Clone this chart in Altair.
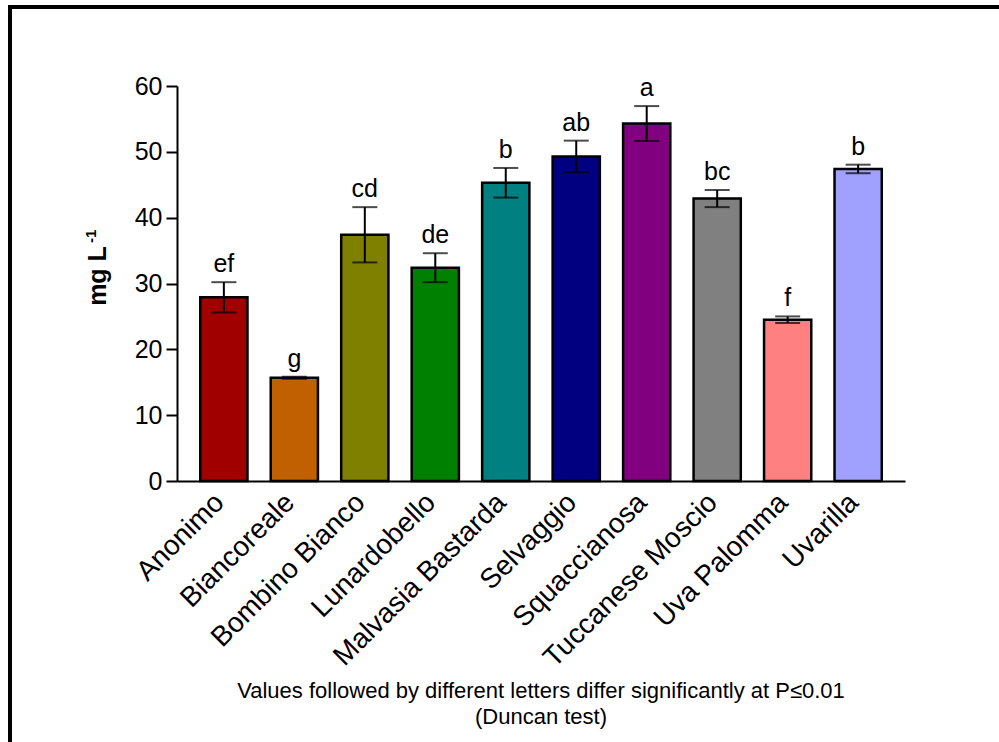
import altair as alt
import pandas as pd

# Cultivars, means (mg/L), standard errors and Duncan grouping letters
cultivars = ["Anonimo", "Biancoreale", "Bombino Bianco", "Lunardobello",
             "Malvasia Bastarda", "Selvaggio", "Squaccianosa",
             "Tuccanese Moscio", "Uva Palomma", "Uvarilla"]
means = [27.9, 15.7, 37.4, 32.4, 45.3, 49.3, 54.3, 42.9, 24.5, 47.4]
errors = [2.3, 0.15, 4.2, 2.2, 2.25, 2.4, 2.65, 1.3, 0.5, 0.65]
letters = ["ef", "g", "cd", "de", "b", "ab", "a", "bc", "f", "b"]
bar_colors = ["#A00000", "#C06000", "#808000", "#008000", "#008080",
              "#000080", "#800080", "#808080", "#FF8080", "#A0A0FF"]

df = pd.DataFrame({
    "cultivar": cultivars,
    "mean": means,
    "lo": [m - e for m, e in zip(means, errors)],
    "hi": [m + e for m, e in zip(means, errors)],
    "letter": letters,
})

W, H = 728, 395
FONT = "Liberation Sans"

x = alt.X("cultivar:N", sort=cultivars,
          scale=alt.Scale(paddingInner=0.33, paddingOuter=0.33),
          axis=alt.Axis(title=None, labelAngle=-45, labelAlign="right",
                        labelBaseline="middle", labelFontSize=28,
                        labelPadding=17, labelOffset=-4, labelLimit=0,
                        ticks=False, labelColor="black", labelFont=FONT,
                        domainColor="black", domainWidth=2))
y = alt.Y("mean:Q", scale=alt.Scale(domain=[0, 60], nice=False),
          axis=alt.Axis(title=None, values=[0, 10, 20, 30, 40, 50, 60],
                        labelFontSize=25, labelColor="black", labelFont=FONT,
                        labelPadding=4, tickSize=11, tickWidth=2,
                        tickColor="black", domainColor="black",
                        domainWidth=2, grid=False))

base = alt.Chart(df)

bars = base.mark_bar(stroke="black", strokeWidth=2.5).encode(
    x=x, y=y,
    color=alt.Color("cultivar:N", sort=cultivars, legend=None,
                    scale=alt.Scale(domain=cultivars, range=bar_colors)),
)

whisker = base.mark_rule(color="black", strokeWidth=2).encode(
    x=alt.X("cultivar:N", sort=cultivars), y="lo:Q", y2="hi:Q")
cap_hi = base.mark_tick(color="black", orient="horizontal", size=25,
                        thickness=2).encode(
    x=alt.X("cultivar:N", sort=cultivars), y="hi:Q")
cap_lo = base.mark_tick(color="black", orient="horizontal", size=25,
                        thickness=2).encode(
    x=alt.X("cultivar:N", sort=cultivars), y="lo:Q")

group_text = base.mark_text(fontSize=25, font=FONT, color="black",
                            baseline="alphabetic", dy=-10).encode(
    x=alt.X("cultivar:N", sort=cultivars), y="hi:Q", text="letter:N")

one = pd.DataFrame({"k": [0]})

# Y-axis title with superscript exponent
ytitle = alt.Chart(one).mark_text(
    text="mg L", font=FONT, fontWeight="bold", fontSize=25, angle=270,
    align="center", baseline="alphabetic", color="black"
).encode(x=alt.value(-71), y=alt.value(190))
ysup = alt.Chart(one).mark_text(
    text="-1", font=FONT, fontWeight="bold", fontSize=15, angle=270,
    align="left", baseline="alphabetic", color="black"
).encode(x=alt.value(-81), y=alt.value(157))

note = alt.Chart(one).mark_text(
    text=["Values followed by different letters differ significantly at P\u22640.01",
          "(Duncan test)"],
    font=FONT, fontSize=22, lineHeight=26, align="center", baseline="middle",
    color="black"
).encode(x=alt.value(W / 2), y=alt.value(605))

frame = alt.Chart(one).mark_rect(fill=None, stroke="black", strokeWidth=4).encode(
    x=alt.value(-167), x2=alt.value(900), y=alt.value(-79), y2=alt.value(720))

chart = alt.layer(
    frame, bars, whisker, cap_hi, cap_lo, group_text, ytitle, ysup, note
).properties(
    width=W, height=H,
    autosize=alt.AutoSizeParams(type="none"),
    padding={"left": 177, "top": 86, "right": 94, "bottom": 261},
    background="white",
).configure_view(stroke=None)

chart.save("out.html", embed_options={"renderer": "svg", "actions": False})
